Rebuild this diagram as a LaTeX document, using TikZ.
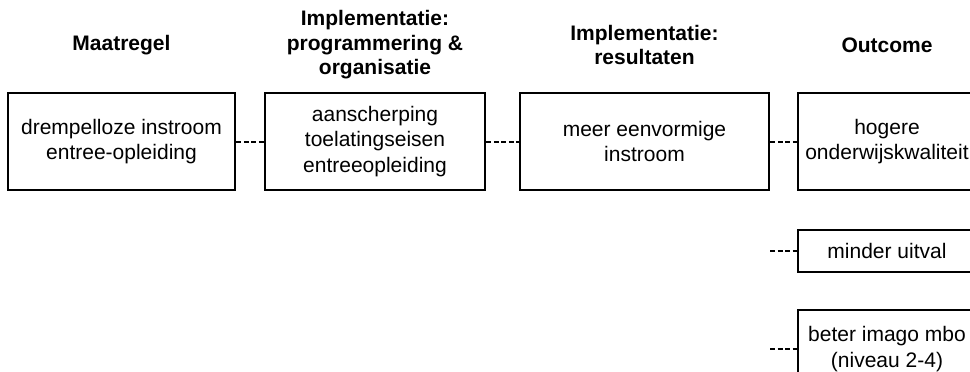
\documentclass[tikz,border=0pt]{standalone}
\usepackage{fontspec}
\setmainfont{Liberation Sans}
\usepackage{tikz}

\tikzset{
  stap/.style={draw,line width=2.5pt,inner sep=0pt,align=center,font=\fontsize{21}{25.5}\selectfont},
  kop/.style={align=center,font=\fontsize{21}{24.5}\selectfont\bfseries},
  streep/.style={line width=2pt,dash pattern=on 5pt off 2.5pt}
}

\begin{document}
\begin{tikzpicture}[x=1pt,y=-1pt]
\clip (0,0) rectangle (970,372);
\node[kop] (kmaatregel) at (121.5,45) {Maatregel};
\node[kop] (kprog) at (375,45) {Implementatie:\\programmering \&\\organisatie};
\node[kop] (kres) at (644.5,45) {Implementatie:\\resultaten};
\node[kop] (koutcome) at (887,45) {Outcome};

\node[stap,minimum width=227pt,minimum height=97pt] (maatregel) at (121.5,141.5) {drempelloze instroom\\entree-opleiding};
\node[stap,minimum width=220pt,minimum height=97pt] (prog) at (375,141.5) {aanscherping\\toelatingseisen\\entreeopleiding};
\node[stap,minimum width=249pt,minimum height=97pt] (res) at (644.5,141.5) {meer eenvormige\\instroom};
\node[stap,minimum width=178pt,minimum height=97pt] (kwaliteit) at (887,141.5) {hogere\\onderwijskwaliteit};
\node[stap,minimum width=178pt,minimum height=42pt] (uitval) at (887,251) {minder uitval};
\node[stap,minimum width=178pt,minimum height=78pt] (imago) at (887,349) {beter imago mbo\\(niveau 2-4)};

\coordinate (vrij1) at (770,251);
\coordinate (vrij2) at (770,349);

\draw[streep] (maatregel) -- (prog);
\draw[streep] (prog) -- (res);
\draw[streep] (res) -- (kwaliteit);
\draw[streep] (vrij1) -- (uitval);
\draw[streep] (vrij2) -- (imago);
\end{tikzpicture}
\end{document}
